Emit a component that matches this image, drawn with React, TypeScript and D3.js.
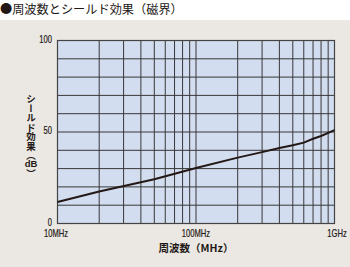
import React from "react";
import * as d3 from "d3";

const freqMHz = [10, 20, 50, 100, 200, 300, 400, 500, 600, 700, 800, 1000];
const shieldDB = [11.7, 17.5, 24.2, 30.3, 36, 39, 41.3, 42.8, 44.2, 46.3, 47.8, 51];
const yTicks = [0, 50, 100];
const yGrid = [10, 20, 30, 40, 50, 60, 70, 80, 90];
const xTickVals = [10, 100, 1000];
const xTickLabels = ["10MHz", "100MHz", "1GHz"];
const xGrid = [20, 30, 40, 50, 60, 70, 80, 90, 100, 200, 300, 400, 500, 600, 700, 800, 900];

const W = 350;
const H = 267;
const L = 57.5, R = 334.5, T = 40.5, B = 223.5;

export default function App() {
  const x = d3.scaleLog().domain([10, 1000]).range([L, R]);
  const y = d3.scaleLinear().domain([0, 100]).range([B, T]);
  const line = d3
    .line<number>()
    .x((_, i) => x(freqMHz[i]))
    .y((d) => y(d));
  const numFont = "'Liberation Sans', Arial, sans-serif";
  const jpFont = "'Noto Sans CJK JP', sans-serif";
  const dark = "#231815";
  const gridC = "#383838";
  const sx = 0.76;
  return (
    <svg
      width={W}
      height={H}
      style={{ position: "fixed", left: 0, top: 0, display: "block" }}
    >
      <rect x={0} y={0} width={W} height={H} fill="#ebe8e4" />
      <rect x={0} y={0} width={W} height={20} fill="#ffffff" />
      <text x={0} y={14} fontFamily={jpFont} fontSize={12.2} fill={dark}>
        ●周波数とシールド効果（磁界）
      </text>
      <rect x={L} y={T} width={R - L} height={B - T} fill="#d2ddf0" />
      {yGrid.map((v) => (
        <line key={"h" + v} x1={L} x2={R} y1={y(v)} y2={y(v)} stroke={gridC} strokeWidth={1} />
      ))}
      {xGrid.map((v) => (
        <line key={"v" + v} x1={x(v)} x2={x(v)} y1={T} y2={B} stroke={gridC} strokeWidth={1} />
      ))}
      <rect x={L} y={T} width={R - L} height={B - T} fill="none" stroke="#444" strokeWidth={1.2} />
      <path d={line(shieldDB) || ""} fill="none" stroke={dark} strokeWidth={2} />
      {yTicks.map((v) => (
        <g key={"yt" + v} transform={`translate(52,${y(v) + 2}) scale(${sx},1)`}>
          <text
            textAnchor="end"
            fontFamily={numFont}
            fontSize={10}
            fill={dark}
            stroke={dark}
            strokeWidth={0.2}
          >
            {v}
          </text>
        </g>
      ))}
      {xTickLabels.map((lab, i) => (
        <g
          key={"xt" + lab}
          transform={`translate(${i === 2 ? x(xTickVals[i]) + 2.5 : x(xTickVals[i]) - (i === 0 ? 1.5 : 0)},236.5) scale(${sx},1)`}
        >
          <text
            textAnchor="middle"
            fontFamily={numFont}
            fontSize={10}
            fill={dark}
            stroke={dark}
            strokeWidth={0.2}
          >
            {lab}
          </text>
        </g>
      ))}
      <text
        x={196}
        y={251.5}
        textAnchor="middle"
        fontFamily={jpFont}
        fontSize={10.5}
        fontWeight={700}
        fill={dark}
      >
        周波数（MHz）
      </text>
      <text
        x={31}
        y={94}
        writingMode="vertical-rl"
        style={{ writingMode: "vertical-rl" }}
        fontFamily={jpFont}
        fontSize={9.5}
        fontWeight={700}
        fill={dark}
      >
        シールド効果（
      </text>
      <text
        x={31}
        y={167}
        textAnchor="middle"
        fontFamily={numFont}
        fontSize={9.5}
        fontWeight={700}
        fill={dark}
      >
        dB
      </text>
      <text
        x={31}
        y={168.5}
        writingMode="vertical-rl"
        style={{ writingMode: "vertical-rl" }}
        fontFamily={jpFont}
        fontSize={9.5}
        fontWeight={700}
        fill={dark}
      >
        ）
      </text>
    </svg>
  );
}
